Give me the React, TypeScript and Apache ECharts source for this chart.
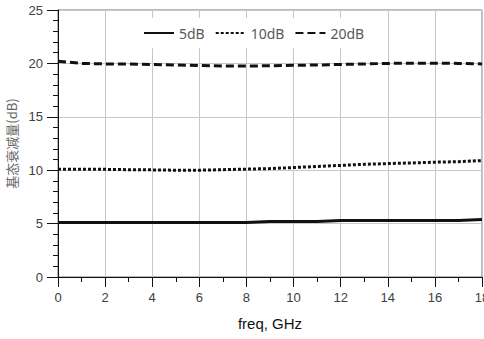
import React, { useEffect, useRef } from "react";
import * as echarts from "echarts";

const freq = [0, 1, 2, 3, 4, 5, 6, 7, 8, 9, 10, 11, 12, 13, 14, 15, 16, 17, 18];
const att5 = [5.1, 5.1, 5.1, 5.1, 5.1, 5.1, 5.1, 5.1, 5.1, 5.2, 5.2, 5.2, 5.3, 5.3, 5.3, 5.3, 5.3, 5.3, 5.38];
const att10 = [10.1, 10.1, 10.08, 10.05, 10.03, 10.0, 10.0, 10.05, 10.1, 10.15, 10.25, 10.35, 10.45, 10.55, 10.62, 10.68, 10.75, 10.8, 10.9];
const att20 = [20.2, 20.0, 19.95, 19.95, 19.9, 19.85, 19.8, 19.75, 19.75, 19.78, 19.82, 19.85, 19.9, 19.95, 20.0, 20.02, 20.02, 20.0, 19.95];
const seriesNames = ["5dB", "10dB", "20dB"];

const pairs = (ys: number[]) => freq.map((f, i) => [f, ys[i]]);

export default function App() {
  const ref = useRef<HTMLDivElement>(null);
  useEffect(() => {
    if (!ref.current) return;
    const chart = echarts.init(ref.current, null, { renderer: "svg" });
    const labelFont = "Liberation Sans";
    const mkLine = (name: string, data: number[], type: any) => ({
      name,
      type: "line",
      data: pairs(data),
      showSymbol: false,
      symbol: "none",
      lineStyle: { color: "#111", width: 3, type },
      itemStyle: { color: "#111" },
    });
    chart.setOption({
      animation: false,
      backgroundColor: "#fff",
      grid: {
        left: 58,
        right: 2,
        top: 10,
        bottom: 62,
        show: true,
        borderColor: "#777",
        borderWidth: 1,
        containLabel: false,
        outerBoundsMode: "none",
      },
      legend: {
        data: seriesNames,
        left: 133,
        top: 18,
        padding: [8, 10],
        backgroundColor: "#fff",
        itemWidth: 30,
        itemHeight: 14,
        itemGap: 10,
        itemStyle: { opacity: 0 },
        textStyle: { color: "#595959", fontSize: 14, fontFamily: "Noto Sans" },
      },
      xAxis: {
        type: "value",
        min: 0,
        max: 18,
        interval: 2,
        name: "freq, GHz",
        nameLocation: "middle",
        nameGap: 39,
        nameTextStyle: { color: "#111", fontSize: 15, fontFamily: labelFont },
        axisLine: { show: true, lineStyle: { color: "#111", width: 1 } },
        axisTick: { show: true, length: 10, lineStyle: { color: "#111" } },
        minorTick: { show: true, splitNumber: 2, length: 5, lineStyle: { color: "#111" } },
        axisLabel: { color: "#404040", fontSize: 13, margin: 14, fontFamily: labelFont },
        splitLine: { show: true, lineStyle: { color: "#c8c8c8", width: 1 } },
      },
      yAxis: {
        type: "value",
        min: 0,
        max: 25,
        interval: 5,
        name: "基态衰减量(dB)",
        nameLocation: "middle",
        nameGap: 38,
        nameTextStyle: { color: "#666", fontSize: 13, fontFamily: "Noto Sans CJK SC" },
        axisLine: { show: true, lineStyle: { color: "#111", width: 1 } },
        axisTick: { show: true, length: 11, lineStyle: { color: "#111" } },
        minorTick: { show: true, splitNumber: 5, length: 5, lineStyle: { color: "#111" } },
        axisLabel: { color: "#404040", fontSize: 13, margin: 15, fontFamily: labelFont },
        splitLine: { show: true, lineStyle: { color: "#c8c8c8", width: 1 } },
      },
      series: [
        mkLine(seriesNames[0], att5, "solid"),
        mkLine(seriesNames[1], att10, [3, 2]),
        mkLine(seriesNames[2], att20, [8, 4]),
      ],
    });
    return () => chart.dispose();
  }, []);
  return (
    <div
      ref={ref}
      style={{ position: "fixed", left: 0, top: 0, width: 484, height: 339 }}
    />
  );
}
